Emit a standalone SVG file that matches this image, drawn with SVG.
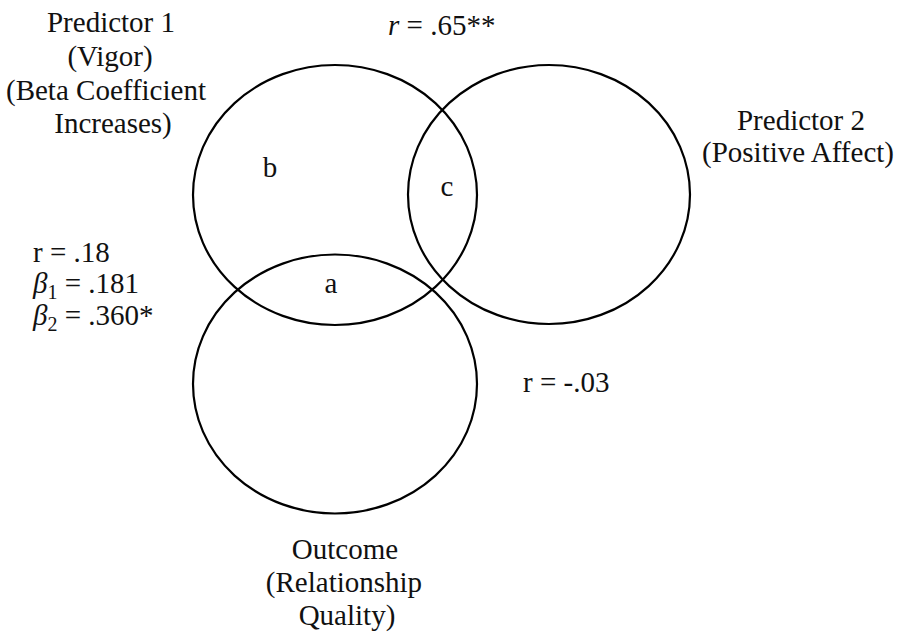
<svg xmlns="http://www.w3.org/2000/svg" width="898" height="634" viewBox="0 0 898 634">
<style>
.c{fill:none;stroke:#000;stroke-width:2.2}
text{font-family:"Liberation Serif","DejaVu Serif",serif;font-size:29px;fill:#111}
.m{text-anchor:middle}
.i{font-style:italic}
.s{font-size:20px}
</style>
<rect width="898" height="634" fill="#fff"/>
<g id="predictor1">
<ellipse class="c" cx="335" cy="195" rx="142" ry="130"/>
<text class="m" x="111" y="32">Predictor 1</text>
<text class="m" x="110" y="66">(Vigor)</text>
<text class="m" x="106" y="100">(Beta Coefficient</text>
<text class="m" x="113" y="133">Increases)</text>
<text class="m" x="270" y="177">b</text>
</g>
<g id="predictor2">
<ellipse class="c" cx="549" cy="194.5" rx="141" ry="129.5"/>
<text class="m" x="801" y="130">Predictor 2</text>
<text class="m" x="798" y="162">(Positive Affect)</text>
</g>
<g id="outcome">
<ellipse class="c" cx="335" cy="384" rx="142" ry="129.5"/>
<text class="m" x="345" y="559">Outcome</text>
<text class="m" x="344" y="592">(Relationship</text>
<text class="m" x="347" y="625">Quality)</text>
</g>
<g id="overlaps">
<text class="m" x="447" y="196">c</text>
<text class="m" x="331" y="293">a</text>
</g>
<g id="connectors">
<text x="388" y="35"><tspan class="i">r</tspan> = .65**</text>
<text x="33" y="262">r = .18</text>
<text x="33" y="293"><tspan class="i">β</tspan><tspan class="s" dy="6">1</tspan><tspan dy="-6"> = .181</tspan></text>
<text x="33" y="325"><tspan class="i">β</tspan><tspan class="s" dy="6">2</tspan><tspan dy="-6"> = .360*</tspan></text>
<text x="523" y="392">r = -.03</text>
</g>
</svg>
